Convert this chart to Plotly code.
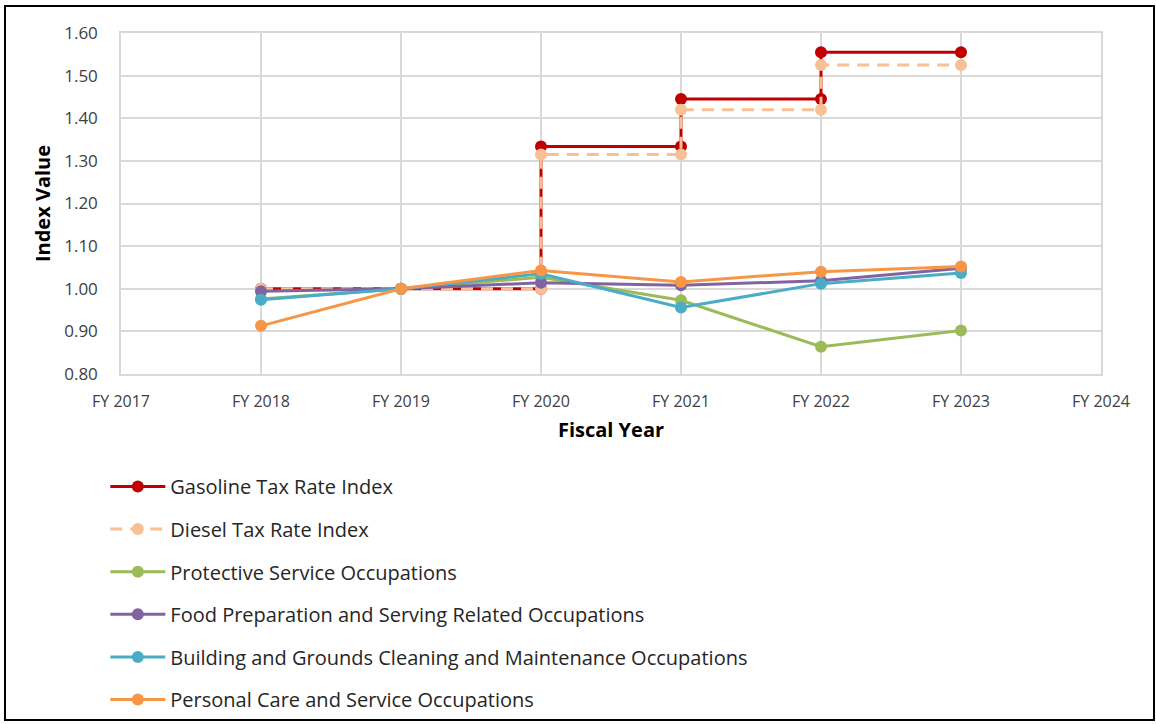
import plotly.graph_objects as go

# Fiscal years shown on the category axis
axis_years = [2017, 2018, 2019, 2020, 2021, 2022, 2023, 2024]
axis_labels = ["FY 2017", "FY 2018", "FY 2019", "FY 2020", "FY 2021", "FY 2022", "FY 2023", "FY 2024"]

# Tax rate indices: a rate change within a year gives two values for that year
tax_years = [2018, 2019, 2020, 2020, 2021, 2021, 2022, 2022, 2023]
gasoline_index = [1.000, 1.000, 1.000, 1.334, 1.334, 1.445, 1.445, 1.555, 1.555]
diesel_index = [1.000, 1.000, 1.000, 1.315, 1.315, 1.420, 1.420, 1.525, 1.525]

# Occupational wage indices (FY 2019 = 1.00)
wage_years = [2018, 2019, 2020, 2021, 2022, 2023]
protective_service = [0.976, 1.000, 1.027, 0.973, 0.864, 0.902]
food_preparation = [0.994, 1.000, 1.014, 1.008, 1.019, 1.048]
building_grounds = [0.974, 1.000, 1.035, 0.956, 1.012, 1.037]
personal_care = [0.913, 1.000, 1.043, 1.016, 1.040, 1.052]

FONT = "Open Sans"
W, H = 1156, 724
L, R, T, B = 121, 55, 33, 350

fig = go.Figure()

series = [
    ("Gasoline Tax Rate Index", tax_years, gasoline_index, "#C00000", "solid"),
    ("Diesel Tax Rate Index", tax_years, diesel_index, "#F8C095", "dash"),
    ("Protective Service Occupations", wage_years, protective_service, "#9BBB59", "solid"),
    ("Food Preparation and Serving Related Occupations", wage_years, food_preparation, "#8064A2", "solid"),
    ("Building and Grounds Cleaning and Maintenance Occupations", wage_years, building_grounds, "#4BACC6", "solid"),
    ("Personal Care and Service Occupations", wage_years, personal_care, "#F79646", "solid"),
]

for i, (name, xs, ys, color, dash) in enumerate(series):
    fig.add_trace(go.Scatter(
        x=xs, y=ys, name=name, mode="lines+markers",
        legendgroup=f"g{i}",
        line=dict(color=color, width=3, dash="12px,8px" if dash == "dash" else "solid"),
        marker=dict(color=color, size=12),
    ))

fig.update_layout(
    width=W, height=H,
    margin=dict(l=L, r=R, t=T, b=B, autoexpand=False),
    paper_bgcolor="white", plot_bgcolor="white",
    font=dict(family=FONT, color="#404040", size=16),
    showlegend=True,
    legend=dict(
        orientation="v", x=-0.016, xanchor="left",
        yref="container", y=1 - 467 / H, yanchor="top",
        font=dict(family=FONT, size=20, color="#262626"),
        tracegroupgap=13.6, itemwidth=55, bgcolor="rgba(0,0,0,0)",
    ),
    xaxis=dict(
        range=[2017, 2024], tickvals=axis_years, ticktext=axis_labels,
        showgrid=True, gridcolor="#D9D9D9", gridwidth=1.5,
        showline=True, linecolor="#D9D9D9", linewidth=1.5, mirror=True,
        zeroline=False, ticks="", ticklabelstandoff=12,
        tickfont=dict(size=16, color="#404040"),
        title=dict(text="<b>Fiscal Year</b>", font=dict(size=20, color="#000000"), standoff=12),
    ),
    yaxis=dict(
        range=[0.80, 1.60], dtick=0.10, tick0=0.8, tickformat=".2f",
        showgrid=True, gridcolor="#D9D9D9", gridwidth=1.5,
        showline=True, linecolor="#D9D9D9", linewidth=1.5, mirror=True,
        zeroline=False, ticks="", ticklabelstandoff=18,
        tickfont=dict(size=17, color="#404040"),
        title=dict(text="<b>Index Value</b>", font=dict(size=20, color="#000000"), standoff=8),
    ),
)

# Black frame around the whole chart
pw, ph = W - L - R, H - T - B
fig.add_shape(
    type="rect", xref="paper", yref="paper",
    x0=(5 - L) / pw, x1=(1154 - L) / pw,
    y0=(H - B - 720) / ph, y1=(H - B - 6) / ph,
    line=dict(color="black", width=2), fillcolor="rgba(0,0,0,0)",
)

fig.write_html("out.html")
